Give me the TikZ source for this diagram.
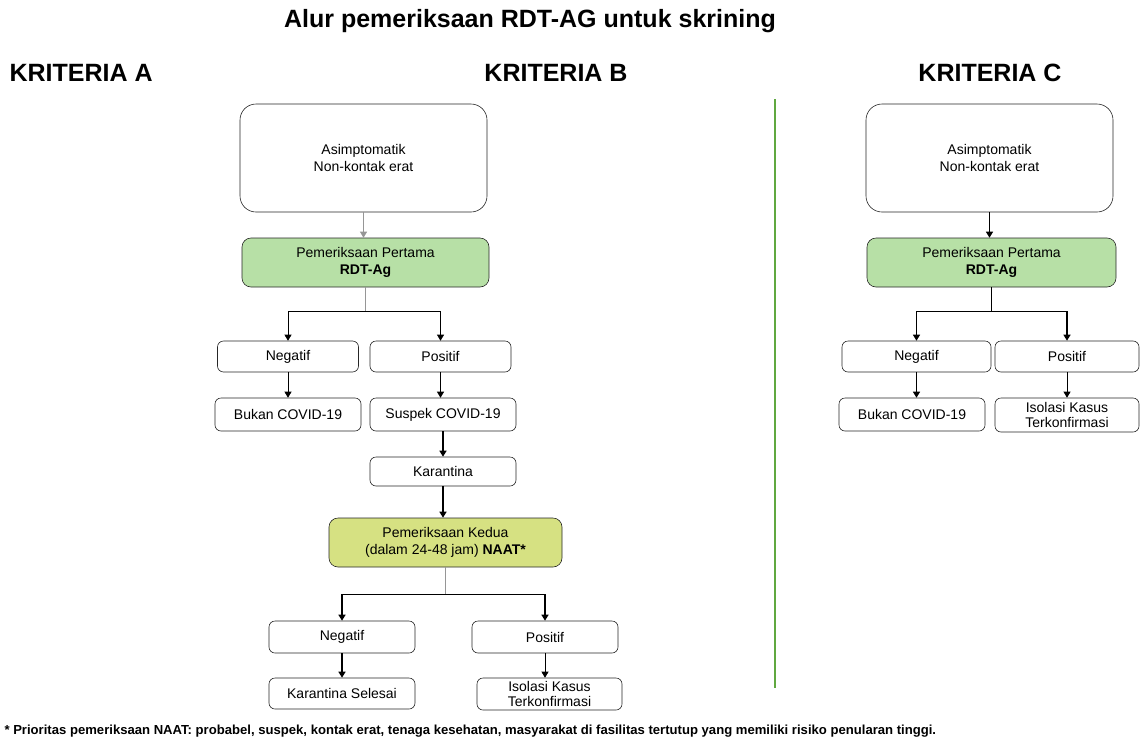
\documentclass[tikz,border=0pt]{standalone}
\usepackage{fontspec}
\setmainfont{Liberation Sans}
\usetikzlibrary{arrows.meta}
\definecolor{firstgreen}{RGB}{183,224,166}
\definecolor{secondgreen}{RGB}{214,225,130}
\definecolor{divider}{RGB}{96,168,64}
\definecolor{linegray}{RGB}{150,150,150}

\begin{document}
\begin{tikzpicture}[x=1pt,y=-1pt]
      \tikzstyle{every node}=[font=\fontsize{14}{17}\selectfont]
      \tikzstyle{box}=[draw=black!85, line width=0.6pt, rounded corners=6pt, align=center, inner sep=1pt]
      \tikzstyle{bigbox}=[box, rounded corners=16pt, minimum width=247pt, minimum height=108pt]
      \tikzstyle{testbox}=[box, rounded corners=9pt, minimum height=49pt]
      \tikzstyle{thinarr}=[-{Triangle[length=6pt,width=7pt]}, line width=0.6pt]
      \tikzstyle{thickarr}=[-{Triangle[length=6pt,width=7pt]}, line width=1.3pt]
      \tikzstyle{branch}=[line width=0.6pt]
      \tikzstyle{heading}=[font=\fontsize{25}{30}\selectfont\bfseries]
      \useasboundingbox (0,0) rectangle (1141,742);

      % Headings
      \node[heading] (title) at (530,21) {Alur pemeriksaan RDT-AG untuk skrining};
      \node[heading, anchor=west] (kritA) at (6,73) {KRITERIA A};
      \node[heading] (kritB) at (556,73) {KRITERIA B};
      \node[heading] (kritC) at (990,73) {KRITERIA C};

      % Kriteria B
      \node[bigbox] (asymB) at (363.5,158) {Asimptomatik\\Non-kontak erat};
      \node[testbox, fill=firstgreen, minimum width=247pt] (pertamaB) at (365.5,262.5) {Pemeriksaan Pertama\\\textbf{RDT-Ag}};
      \node[box, minimum width=141pt, minimum height=31pt] (negB) at (288,356.5) {Negatif};
      \node[box, minimum width=141pt, minimum height=31pt] (posB) at (440.5,356.5) {Positif};
      \node[box, minimum width=146pt, minimum height=33pt] (bukanB) at (288,414.5) {Bukan COVID-19};
      \node[box, minimum width=146pt, minimum height=33pt] (suspekB) at (443,414.5) {Suspek COVID-19};
      \node[box, minimum width=146pt, minimum height=29pt] (karantinaB) at (443,471.5) {Karantina};
      \node[testbox, fill=secondgreen, minimum width=233pt] (keduaB) at (445.5,542.5) {Pemeriksaan Kedua\\(dalam 24-48 jam) \textbf{NAAT*}};
      \node[box, minimum width=146pt, minimum height=32pt] (neg2B) at (342,637) {Negatif};
      \node[box, minimum width=146pt, minimum height=32pt] (pos2B) at (545,637) {Positif};
      \node[box, minimum width=146pt, minimum height=31pt] (selesaiB) at (342,693.5) {Karantina Selesai};
      \node[box, minimum width=145pt, minimum height=32pt, font=\fontsize{14}{15}\selectfont] (isolasiB) at (549.5,694) {Isolasi Kasus\\Terkonfirmasi};

      % Connect Kriteria B
      \draw[thinarr, draw=linegray] (asymB.south) -- (asymB.south |- pertamaB.north);
      \draw[branch, linegray] (pertamaB.south) -- ++(0,24) coordinate (jB1);
      \draw[branch] (negB.north |- jB1) -- (posB.north |- jB1);
      \draw[thinarr] (negB.north |- jB1) -- (negB.north);
      \draw[thinarr] (posB.north |- jB1) -- (posB.north);
      \draw[thinarr] (negB.south) -- (bukanB.north);
      \draw[thinarr] (posB.south) -- (posB.south |- suspekB.north);
      \draw[thickarr] (suspekB.south) -- (karantinaB.north);
      \draw[thickarr] (karantinaB.south) -- (karantinaB.south |- keduaB.north);
      \draw[branch, linegray] (keduaB.south) -- ++(0,27) coordinate (jB2);
      \draw[branch] (neg2B.north |- jB2) -- (pos2B.north |- jB2);
      \draw[thickarr] (neg2B.north |- jB2) -- (neg2B.north);
      \draw[thickarr] (pos2B.north |- jB2) -- (pos2B.north);
      \draw[thickarr] (neg2B.south) -- (selesaiB.north);
      \draw[thinarr] (pos2B.south) -- (pos2B.south |- isolasiB.north);

      % Divider
      \draw[divider, line width=2.5pt] (775,99) -- (775,688);

      % Kriteria C
      \node[bigbox] (asymC) at (989.5,158) {Asimptomatik\\Non-kontak erat};
      \node[testbox, fill=firstgreen, minimum width=249pt] (pertamaC) at (991.5,262.5) {Pemeriksaan Pertama\\\textbf{RDT-Ag}};
      \node[box, minimum width=149pt, minimum height=31pt] (negC) at (916.5,356.5) {Negatif};
      \node[box, minimum width=144pt, minimum height=31pt] (posC) at (1067,356.5) {Positif};
      \node[box, minimum width=146pt, minimum height=33pt] (bukanC) at (912,414.5) {Bukan COVID-19};
      \node[box, minimum width=144pt, minimum height=34pt, font=\fontsize{14}{15}\selectfont] (isolasiC) at (1067,415) {Isolasi Kasus\\Terkonfirmasi};

      % Connect Kriteria C
      \draw[thickarr] (asymC.south) -- (asymC.south |- pertamaC.north);
      \draw[branch] (pertamaC.south) -- ++(0,24) coordinate (jC1);
      \draw[branch] (negC.north |- jC1) -- (posC.north |- jC1);
      \draw[thickarr] (negC.north |- jC1) -- (negC.north);
      \draw[thickarr] (posC.north |- jC1) -- (posC.north);
      \draw[thickarr] (negC.south) -- (negC.south |- bukanC.north);
      \draw[thinarr] (posC.south) -- (isolasiC.north);

      % Footnote
      \node[anchor=west, font=\fontsize{13.1}{15}\selectfont\bfseries] (note) at (1,731) {* Prioritas pemeriksaan NAAT: probabel, suspek, kontak erat, tenaga kesehatan, masyarakat di fasilitas tertutup yang memiliki risiko penularan tinggi.};
\end{tikzpicture}
\end{document}
